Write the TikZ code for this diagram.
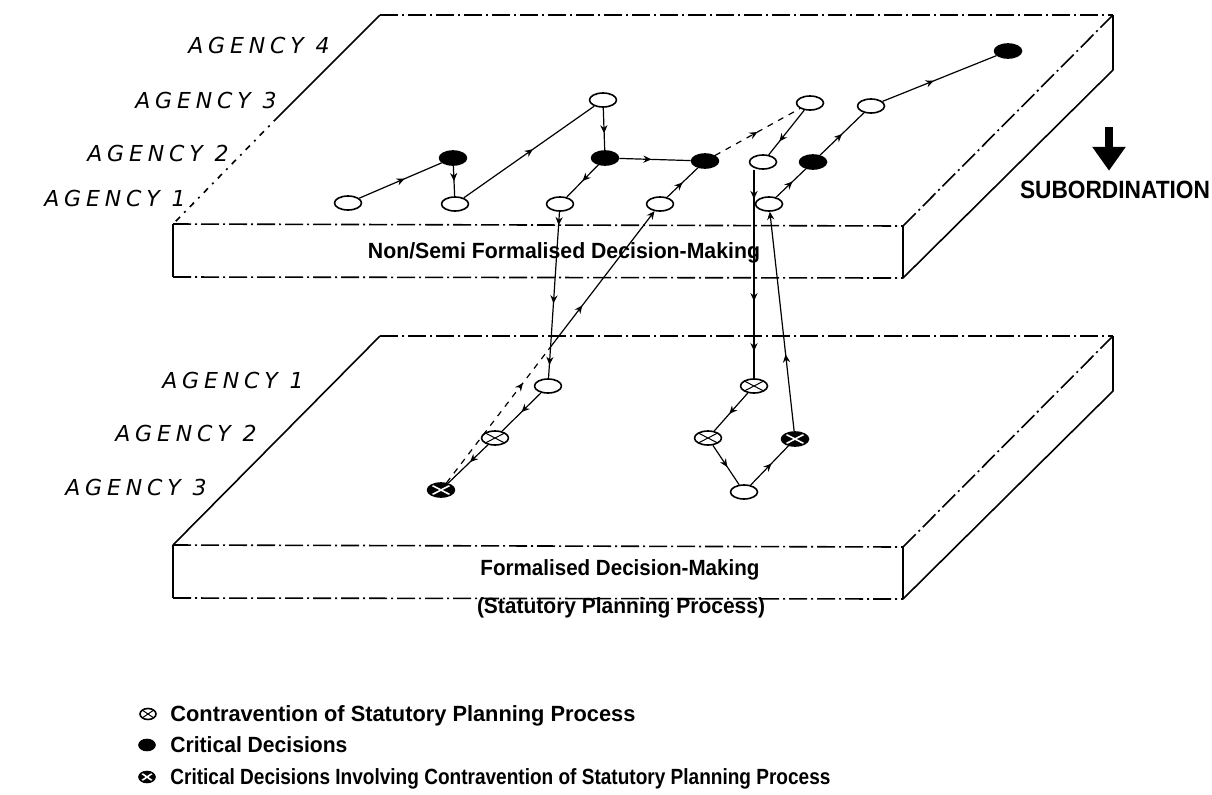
\documentclass[tikz,border=0pt]{standalone}
\usepackage{graphicx}
\usepackage{fontspec}
\setsansfont{Liberation Sans}
\newfontfamily\handfont[LetterSpace=22]{DejaVu Sans}
\usetikzlibrary{arrows.meta, shapes.geometric, decorations.markings}

% squeeze or stretch a label to a given width, keeping its height
\newcommand{\fitto}[2]{\resizebox{#1}{\height}{#2}}

\begin{document}
\begin{tikzpicture}[x=0.5pt, y=-0.5pt, line join=round,
    >={Stealth[length=4pt, width=3.6pt]},
    slab/.style={line width=0.8pt},
    hidden/.style={slab, dash pattern=on 9pt off 2pt on 1pt off 2pt},
    link/.style={line width=0.6pt},
    mid/.style={postaction={decorate, decoration={markings,
        mark=at position #1 with {\arrow{>}}}}},
    dec/.style={ellipse, draw, line width=0.8pt, fill=white,
        minimum width=13.5pt, minimum height=7pt, inner sep=0pt},
    crit/.style={dec, fill=black},
    contra/.style={dec, path picture={
        \draw[line width=0.5pt]
          (path picture bounding box.north west) -- (path picture bounding box.south east)
          (path picture bounding box.south west) -- (path picture bounding box.north east);}},
    critcontra/.style={crit, path picture={
        \draw[white, line width=0.8pt]
          (path picture bounding box.north west) -- (path picture bounding box.south east)
          (path picture bounding box.south west) -- (path picture bounding box.north east);}},
    key/.style={minimum width=8pt, minimum height=5.5pt},
    agency/.style={anchor=east, inner sep=0pt,
        font=\handfont\itshape\fontsize{11}{11}\selectfont},
    caption/.style={inner sep=0pt, font=\sffamily\bfseries\fontsize{11}{11}\selectfont}]

\useasboundingbox (0,0) rectangle (1212,794);

% the two slabs
\foreach \s in {0, 321} {
  \begin{scope}[shift={(0,\s)}]
    \draw[hidden] (380,15) -- (1113,15);
    \draw[hidden] (173,224) -- (903,226);
    \draw[hidden] (903,226) -- (1113,15);
    \draw[hidden] (173,277) -- (903,278);
    \draw[slab] (173,224) -- (173,277);
    \draw[slab] (903,226) -- (903,278) -- (1113,70) -- (1113,15);
  \end{scope}
}
\draw[slab] (380,15) -- (278,117);
\draw[slab, dash pattern=on 3pt off 3pt on 1pt off 3pt] (278,117) -- (173,224);
\draw[slab] (380,336) -- (173,545);

% agencies on the upper slab
\node[agency] (ag4) at (330,45) {AGENCY 4};
\node[agency] (ag3) at (277,100) {AGENCY 3};
\node[agency] (ag2) at (229,153) {AGENCY 2};
\node[agency] (ag1) at (186,198) {AGENCY 1};

% agencies on the lower slab
\node[agency] (bg1) at (304,380) {AGENCY 1};
\node[agency] (bg2) at (257,433) {AGENCY 2};
\node[agency] (bg3) at (207,487) {AGENCY 3};

% decisions, upper slab
\node[dec]  (a1) at (348,203) {};
\node[crit] (b2) at (453,158) {};
\node[dec]  (b1) at (455,204) {};
\node[dec]  (c3) at (603,100) {};
\node[crit] (c2) at (605,158) {};
\node[dec]  (c1) at (560,204) {};
\node[crit] (d2) at (705,161) {};
\node[dec]  (d1) at (660,204) {};
\node[dec]  (e3) at (810,103) {};
\node[dec]  (e2) at (763,162) {};
\node[dec]  (e1) at (769,204) {};
\node[crit] (f2) at (813,162) {};
\node[dec]  (f3) at (871,106) {};
\node[crit] (g4) at (1008,51) {};

% decisions, lower slab
\node[dec]        (p1) at (548,386) {};
\node[contra]     (p2) at (495,438) {};
\node[critcontra] (q3) at (441,490) {};
\node[contra]     (r1) at (754,386) {};
\node[contra]     (r2) at (708,438) {};
\node[dec]        (r3) at (744,492) {};
\node[critcontra] (s2) at (795,439) {};

% paths on the upper slab
\draw[link, mid=0.55] (a1) -- (b2);
\draw[link, mid=0.5] (b2) -- (b1);
\draw[link, mid=0.53] (b1) -- (c3);
\draw[link, mid=0.6] (c3) -- (c2);
\draw[link, mid=0.45] (c2) -- (d2);
\draw[link, mid=0.5] (c2) -- (c1);
\draw[link, mid=0.5] (d1) -- (d2);
\draw[link, dashed, mid=0.5] (d2) -- (e3);
\draw[link, mid=0.7] (e3) -- (e2);
\draw[link, mid=0.55] (e1) -- (f2);
\draw[link, mid=0.5] (f2) -- (f3);
\draw[link, mid=0.45] (f3) -- (g4);

% between the slabs
\draw[link, mid=0.08, mid=0.55, mid=0.92] (c1) -- (p1);
\draw[link, mid=0.14, mid=0.63, mid=0.87] (r1 |- e2.south) -- (r1);
\draw[link, ->, mid=0.35] (s2) -- (e1);
\path (q3) -- coordinate[pos=0.49] (qd) (d1);
\draw[link, dashed, mid=0.75] (q3) -- (qd);
\draw[link, ->, mid=0.32] (qd) -- (d1);

% paths on the lower slab
\draw[link, mid=0.5] (p1) -- (p2);
\draw[link, mid=0.45] (p2) -- (q3);
\draw[link, mid=0.55] (r1) -- (r2);
\draw[link, mid=0.55] (r2) -- (r3);
\draw[link, mid=0.55] (r3) -- (s2);

% slab captions
\node[caption] (informal) at (564,253) {\fitto{196pt}{Non/Semi Formalised Decision-Making}};
\node[caption] (formal) at (620,570) {\fitto{139.5pt}{Formalised Decision-Making}};
\node[caption] (statutory) at (621,608) {\fitto{144pt}{(Statutory Planning Process)}};

% subordination arrow
\node[caption, font=\sffamily\bfseries\fontsize{12.5}{12.5}\selectfont]
  (sub) at (1115,190) {\fitto{95pt}{SUBORDINATION}};
\coordinate (subtop) at (1109,127);
\draw[line width=3.6pt, -{Triangle[length=12pt, width=16pt]}, shorten >=5pt]
  (subtop) -- (subtop |- sub.north);

% legend
\node[contra, key]     (lg1) at (148,714) {};
\node[crit, key]       (lg2) at (147,745) {};
\node[critcontra, key] (lg3) at (147,777) {};
\node[caption, anchor=west] (lt1) at (170,716) {\fitto{232.5pt}{Contravention of Statutory Planning Process}};
\node[caption, anchor=west] (lt2) at (170,745) {\fitto{88.5pt}{Critical Decisions}};
\node[caption, anchor=west] (lt3) at (170,779) {\fitto{330pt}{Critical Decisions Involving Contravention of Statutory Planning Process}};
\end{tikzpicture}
\end{document}
